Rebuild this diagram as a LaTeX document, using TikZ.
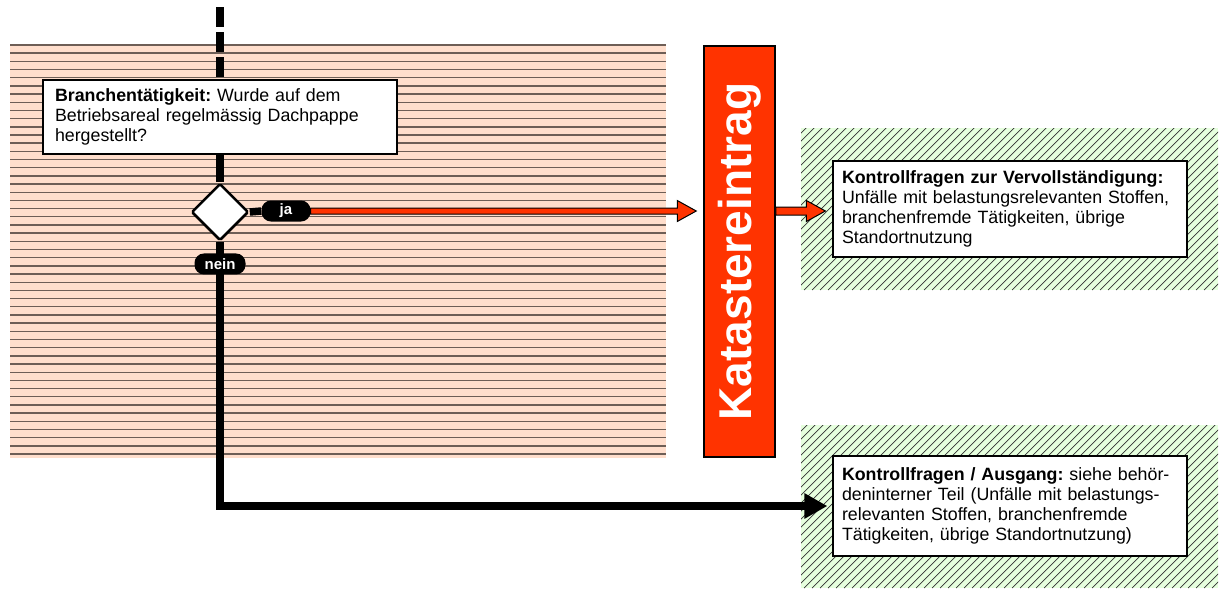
\documentclass[tikz,border=0pt]{standalone}
\usepackage{fontspec}
\setmainfont{Liberation Sans}
\usepackage{tikz}
\usetikzlibrary{shapes.geometric,arrows.meta,positioning,calc}
\frenchspacing
\definecolor{pfirsich}{RGB}{255,222,204}
\definecolor{strich}{RGB}{110,94,86}
\definecolor{hellgruen}{RGB}{230,255,222}
\definecolor{kred}{RGB}{255,51,0}
\tikzset{
  frage/.style={draw,line width=1.2pt,fill=white,align=left,text width=336pt,inner xsep=9pt,inner ysep=3pt,font=\fontsize{17.8}{20}\selectfont},
  flow/.style={line width=7.5pt},
  pill/.style={fill=black,text=white,rounded corners=9.5pt,inner sep=0pt,minimum height=21pt,font=\fontsize{15}{16}\selectfont\bfseries},
  rotpfeil/.style={fill=kred,draw=black,line width=1pt}
}
\begin{document}
\begin{tikzpicture}[x=1pt,y=-1pt,
 raute/.style={draw,diamond,aspect=1,fill=white,line width=2.5pt,rounded corners=1.5pt,minimum size=57pt,inner sep=0pt},
 kataster/.style={draw,line width=1.5pt,fill=kred,text=white,rotate=90,minimum width=411pt,minimum height=71pt,inner sep=0pt,font=\fontsize{46}{46}\selectfont\bfseries}]
\newcommand{\pfeil}[3]{\draw[rotpfeil] let \p1=(#1), \p2=(#2) in (\x1,{\y1+#3pt}) -- ({\x2-19pt},{\y1+#3pt}) -- ({\x2-19pt},{\y1+10.5pt}) -- (\x2,\y1) -- ({\x2-19pt},{\y1-10.5pt}) -- ({\x2-19pt},{\y1-#3pt}) -- (\x1,{\y1-#3pt}) -- cycle;}
\useasboundingbox (0,0) rectangle (1220,590);
% Hintergrund: Branche
\fill[pfirsich] (10,45) rectangle (666,458);
\foreach \i in {0,...,50} \draw[strich,line width=1.4pt] (10,{45+8.18*\i}) -- (666,{45+8.18*\i});
% Hintergrund: Kontrollfragen
\foreach \ya/\yb in {128/290,425/588} {
  \fill[hellgruen] (801,\ya) rectangle (1218,\yb);
  \begin{scope}
    \clip (801,\ya) rectangle (1218,\yb);
    \foreach \x in {620,628,...,1230} \draw[black!80,line width=0.7pt] (\x,\yb) -- ++(170,-170);
  \end{scope}
}
\node[frage,minimum height=74pt,text width=330pt,inner xsep=12pt] (frage) at (220,117) {\textbf{Branchentätigkeit:} Wurde auf dem\\Betriebsareal regelmässig Dachpappe\\hergestellt?};
\node[raute] (raute) at (220,212) {};
\node[pill,minimum width=49pt] (ja) at (286,211) {ja};
\node[kataster] (kat) at (739.5,251.5) {Katastereintrag};
\node[frage,minimum height=96pt] (vervoll) at (1010,209) {\textbf{Kontrollfragen zur Vervollständigung:}\\Unfälle mit belastungsrelevanten Stoffen,\\branchenfremde Tätigkeiten, übrige\\Standortnutzung};
\node[frage,minimum height=100pt] (ausgang) at (1010,506) {\textbf{Kontrollfragen / Ausgang:} siehe behör-\\deninterner Teil (Unfälle mit belastungs-\\relevanten Stoffen, branchenfremde\\Tätigkeiten, übrige Standortnutzung)};
\draw[flow,dash pattern=on 20pt off 5pt] (220,7) -- (frage.north);
\draw[flow] (frage.south) -- (raute.north);
\draw[flow] (raute.east) -- (ja.west);
\draw[flow,-{Triangle[length=23pt,width=24pt]},shorten >=5pt] (raute.south) |- node[pill,minimum width=51pt,pos=0.042] {nein} (ausgang.west);
% rotated node: north is its left side, south its right side
\pfeil{ja.east}{$(kat.north)+(-7,0)$}{3}
\pfeil{kat.south |- ja.east}{$(vervoll.west)+(-7,0)$}{4}
\end{tikzpicture}
\end{document}
